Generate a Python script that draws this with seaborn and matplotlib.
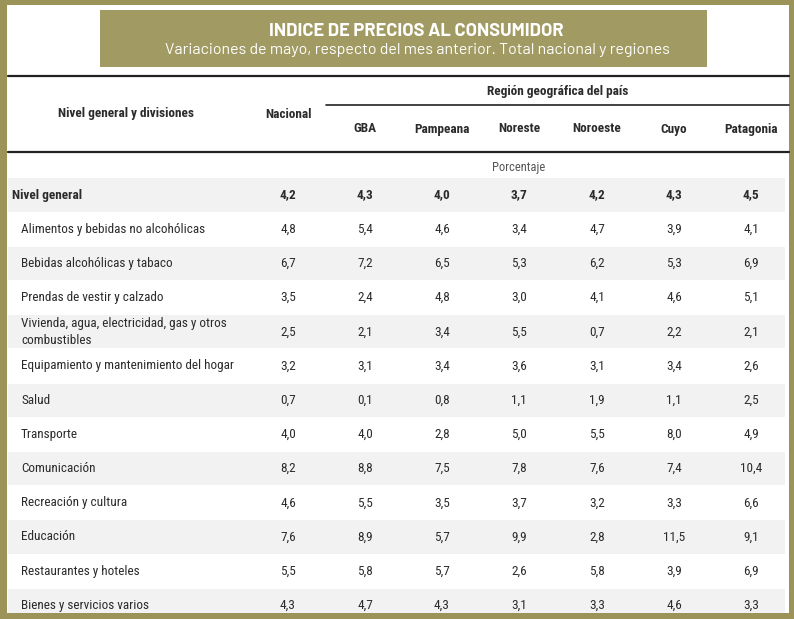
import matplotlib
matplotlib.use("Agg")
import matplotlib.pyplot as plt
from matplotlib import font_manager
from matplotlib.patches import Rectangle
import seaborn as sns

labels = ["Nivel general", "Alimentos y bebidas no alcohólicas", "Bebidas alcohólicas y tabaco",
          "Prendas de vestir y calzado", "Vivienda, agua, electricidad, gas y otros\ncombustibles",
          "Equipamiento y mantenimiento del hogar", "Salud", "Transporte", "Comunicación",
          "Recreación y cultura", "Educación", "Restaurantes y hoteles", "Bienes y servicios varios"]
columns = ["Nacional", "GBA", "Pampeana", "Noreste", "Noroeste", "Cuyo", "Patagonia"]
nacional = [4.2, 4.8, 6.7, 3.5, 2.5, 3.2, 0.7, 4.0, 8.2, 4.6, 7.6, 5.5, 4.3]
gba = [4.3, 5.4, 7.2, 2.4, 2.1, 3.1, 0.1, 4.0, 8.8, 5.5, 8.9, 5.8, 4.7]
pampeana = [4.0, 4.6, 6.5, 4.8, 3.4, 3.4, 0.8, 2.8, 7.5, 3.5, 5.7, 5.7, 4.3]
noreste = [3.7, 3.4, 5.3, 3.0, 5.5, 3.6, 1.1, 5.0, 7.8, 3.7, 9.9, 2.6, 3.1]
noroeste = [4.2, 4.7, 6.2, 4.1, 0.7, 3.1, 1.9, 5.5, 7.6, 3.2, 2.8, 5.8, 3.3]
cuyo = [4.3, 3.9, 5.3, 4.6, 2.2, 3.4, 1.1, 8.0, 7.4, 3.3, 11.5, 3.9, 4.6]
patagonia = [4.5, 4.1, 6.9, 5.1, 2.1, 2.6, 2.5, 4.9, 10.4, 6.6, 9.1, 6.9, 3.3]
values = [nacional, gba, pampeana, noreste, noroeste, cuyo, patagonia]

title = "INDICE DE PRECIOS AL CONSUMIDOR"
subtitle = "Variaciones de mayo, respecto del mes anterior. Total nacional y regiones"

sns.set_theme(style="white")

# pick a narrow face if there is one, else Liberation Sans
have = {f.name for f in font_manager.fontManager.ttflist}
body_font = "Liberation Sans"
for cand in ["Liberation Sans Narrow", "Roboto Condensed", "Open Sans Condensed", "Archivo Narrow",
             "PT Sans Narrow", "Arimo"]:
    if cand in have:
        body_font = cand
        break
title_font = "Barlow" if "Barlow" in have else "Roboto"
plt.rcParams['font.family'] = [body_font, "DejaVu Sans"]
fs = 9.5 if body_font not in ("Liberation Sans", "Arimo") else 8.5

olive = "#9c9358"
box = "#a19a62"
stripe = "#f2f2f2"
txt = "#2b2b2b"

fig = plt.figure(figsize=(7.94, 6.19), dpi=100)
ax = fig.add_axes([0, 0, 1, 1])
ax.set_xlim(0, 794)
ax.set_ylim(619, 0)
ax.axis("off")

# frame
ax.add_patch(Rectangle((0, 0), 794, 619, facecolor=olive, edgecolor="none"))
ax.add_patch(Rectangle((7, 5), 782, 608, facecolor="white", edgecolor="none"))

# title box
ax.add_patch(Rectangle((100, 10), 607, 57, facecolor=box, edgecolor="none"))
ax.text(416, 31, title, color="white", fontsize=13.2, fontweight="bold",
        ha="center", va="center", family=[title_font, "DejaVu Sans"])
ax.text(417, 50, subtitle, color="white", fontsize=11.5,
        ha="center", va="center", family=[title_font, "DejaVu Sans"])

# header rules
ax.plot([8, 789], [76, 76], color="#222222", lw=1.6)
ax.plot([326, 789], [105, 105], color="#222222", lw=1.2)
ax.plot([8, 789], [152, 152], color="#222222", lw=1.6)

col_x = [288, 365, 442, 519, 597, 674, 751]
ax.text(126, 114, "Nivel general y divisiones", fontsize=fs, fontweight="bold",
        ha="center", va="center", color=txt)
ax.text(col_x[0], 114, columns[0], fontsize=fs, fontweight="bold",
        ha="center", va="center", color=txt)
ax.text(558, 91, "Región geográfica del país", fontsize=fs, fontweight="bold",
        ha="center", va="center", color=txt)
for x, c in zip(col_x[1:], columns[1:]):
    ax.text(x, 129, c, fontsize=fs, fontweight="bold", ha="center", va="center", color=txt)
ax.text(519, 167, "Porcentaje", fontsize=fs - 0.5, ha="center", va="center", color="#555555")

# body rows
row_h = 34.2
y0 = 195
for i, lab in enumerate(labels):
    y = y0 + i * row_h
    if i % 2 == 0:
        ax.barh(y, 777, left=8, height=row_h - 1, color=stripe, edgecolor="none")
    bold = "bold" if i == 0 else "normal"
    lx = 12 if i == 0 else 21
    ax.text(lx, y, lab, fontsize=fs, fontweight=bold, ha="left", va="center",
            color=txt, linespacing=1.45)
    for x, col in zip(col_x, values):
        ax.text(x, y, f"{col[i]:.1f}".replace(".", ","), fontsize=fs, fontweight=bold,
                ha="center", va="center", color=txt)

# bottom frame over the last row
ax.add_patch(Rectangle((0, 613), 794, 6, facecolor=olive, edgecolor="none"))

fig.savefig("out.png", dpi=100)
